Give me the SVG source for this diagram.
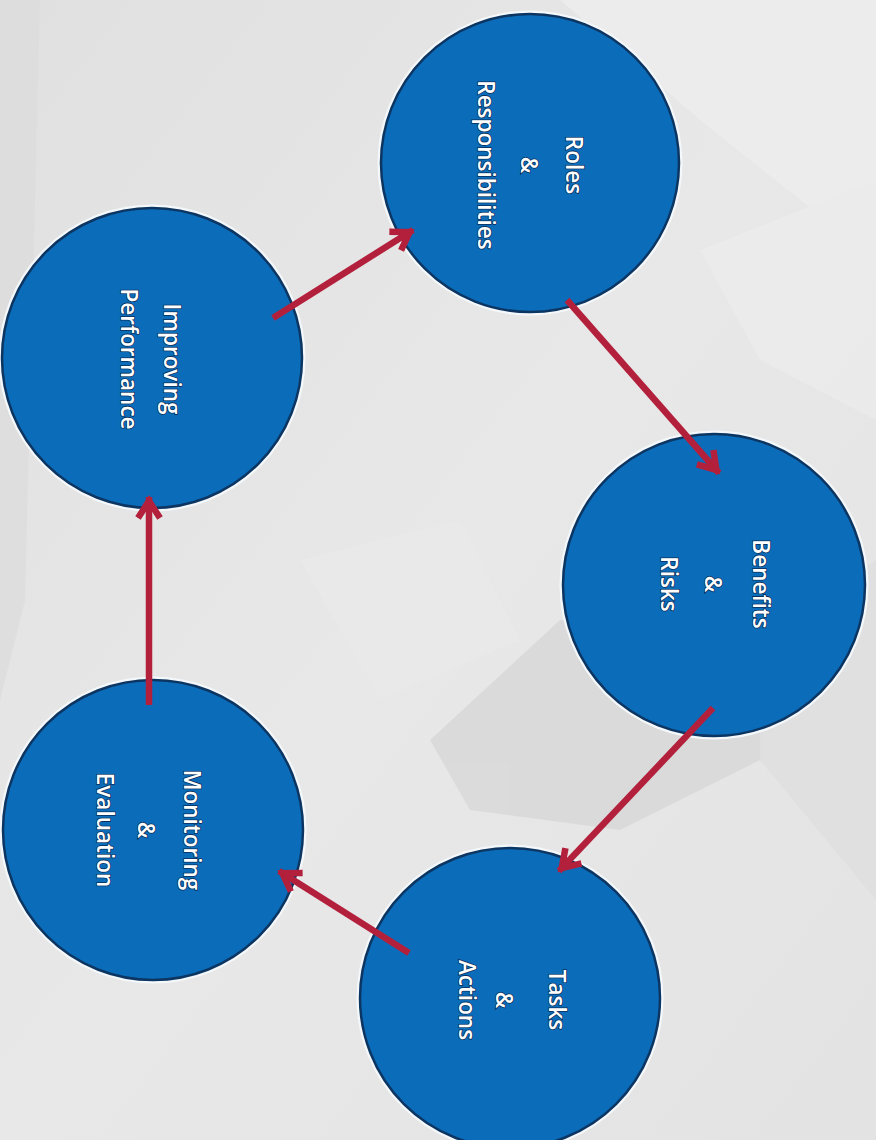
<svg xmlns="http://www.w3.org/2000/svg" width="876" height="1140" viewBox="0 0 876 1140">
<defs>
<linearGradient id="bg" x1="0" y1="0" x2="1" y2="1">
<stop offset="0" stop-color="#e0e0e0"/>
<stop offset="0.5" stop-color="#e8e8e8"/>
<stop offset="1" stop-color="#e3e3e3"/>
</linearGradient>
<marker id="ah" markerUnits="userSpaceOnUse" orient="auto" refX="4" refY="0" markerWidth="40" markerHeight="40" viewBox="-30 -20 40 40" overflow="visible">
<path d="M-17,-11 L0,0 L-17,11" fill="none" stroke="#b3203c" stroke-width="6.5" stroke-linejoin="miter" stroke-linecap="butt"/>
</marker>
<style>
.node .halo{fill:none;stroke:#f4f8fb;stroke-width:3}
.node .disc{fill:#0b6dba;stroke:#0c3562;stroke-width:2.5}
.node text{font-family:"Open Sans","Liberation Sans",sans-serif;font-weight:600;font-size:22.5px;fill:#ffffff;text-anchor:middle;dominant-baseline:central;stroke:#0a2f5c;stroke-width:1.6px;paint-order:stroke}
.conn line{stroke:#b3203c;stroke-width:6.5;marker-end:url(#ah)}
</style>
</defs>
<rect width="876" height="1140" fill="url(#bg)"/>
<g id="background" opacity="0.8">
<polygon points="560,0 876,0 876,260 700,120" fill="#eeeeee"/>
<polygon points="0,0 40,0 25,600 0,700" fill="#dcdcdc"/>
<polygon points="430,740 560,620 760,640 760,760 620,830 470,810" fill="#d8d8d8"/>
<polygon points="760,640 876,560 876,900 760,760" fill="#dedede"/>
<polygon points="700,250 876,180 876,420 760,360" fill="#ececec"/>
<polygon points="300,560 460,520 520,640 380,700" fill="#eaeaea"/>
</g>
<g id="roles" class="node">
<circle class="halo" cx="530" cy="163" r="151"/>
<circle class="disc" cx="530" cy="163" r="149"/>
<text transform="translate(530,165) rotate(90)"><tspan x="0" y="-45">Roles</tspan><tspan x="0" y="0">&amp;</tspan><tspan x="0" y="43">Responsibilities</tspan></text>
</g>
<g id="improving" class="node">
<circle class="halo" cx="152" cy="358" r="152"/>
<circle class="disc" cx="152" cy="358" r="150"/>
<text transform="translate(152,359) rotate(90)"><tspan x="0" y="-21">Improving</tspan><tspan x="0" y="22">Performance</tspan></text>
</g>
<g id="benefits" class="node">
<circle class="halo" cx="714" cy="585" r="153"/>
<circle class="disc" cx="714" cy="585" r="151"/>
<text transform="translate(714,584) rotate(90)"><tspan x="0" y="-48">Benefits</tspan><tspan x="0" y="0">&amp;</tspan><tspan x="0" y="44">Risks</tspan></text>
</g>
<g id="tasks" class="node">
<circle class="halo" cx="510" cy="998" r="152"/>
<circle class="disc" cx="510" cy="998" r="150"/>
<text transform="translate(510,1000) rotate(90)"><tspan x="0" y="-48">Tasks</tspan><tspan x="0" y="5">&amp;</tspan><tspan x="0" y="42">Actions</tspan></text>
</g>
<g id="monitoring" class="node">
<circle class="halo" cx="153" cy="830" r="152"/>
<circle class="disc" cx="153" cy="830" r="150"/>
<text transform="translate(153,830) rotate(90)"><tspan x="0" y="-40">Monitoring</tspan><tspan x="0" y="6">&amp;</tspan><tspan x="0" y="47">Evaluation</tspan></text>
</g>
<g id="connectors" class="conn">
<line x1="273" y1="318" x2="413" y2="230"/>
<line x1="567" y1="300" x2="719" y2="473"/>
<line x1="713" y1="708" x2="559" y2="871"/>
<line x1="409" y1="953" x2="279" y2="871"/>
<line x1="149" y1="705" x2="149" y2="497"/>
</g>
</svg>
